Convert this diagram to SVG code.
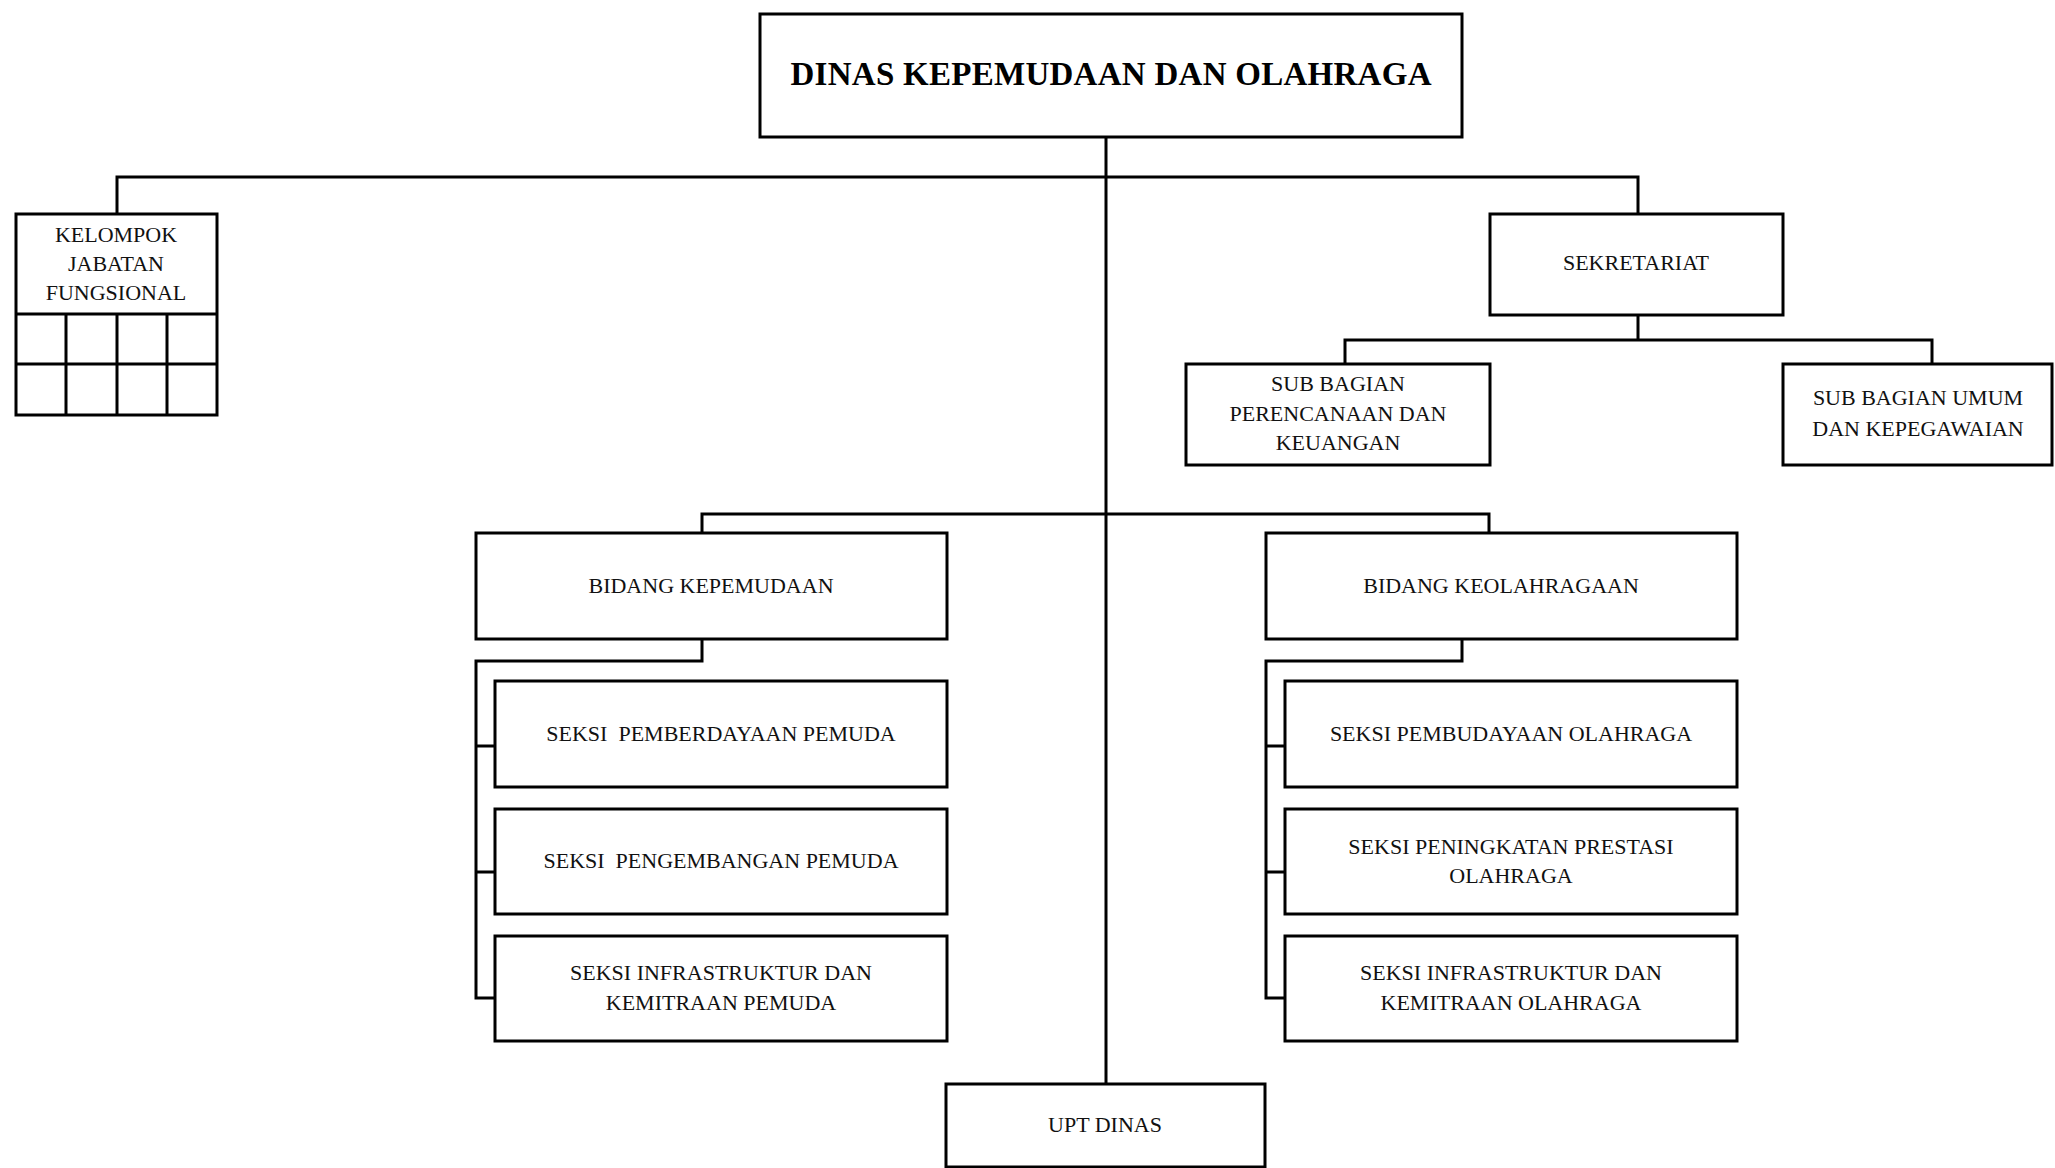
<svg xmlns="http://www.w3.org/2000/svg" width="2055" height="1168" viewBox="0 0 2055 1168">
<style>
.box{fill:#fff;stroke:#000;stroke-width:3}
.ln{fill:none;stroke:#000;stroke-width:3}
.t{font-family:"Liberation Serif","Times New Roman",serif;font-size:22px;fill:#111;text-anchor:middle;white-space:pre}
.title{font-family:"Liberation Serif","Times New Roman",serif;font-size:33px;font-weight:bold;fill:#000;text-anchor:middle}
</style>
<rect width="2055" height="1168" fill="#fff"/>
<g id="connectors">
<path class="ln" d="M1106,138 V1084"/>
<path class="ln" d="M117,214 V177 H1638 V214"/>
<path class="ln" d="M1638,315 V340 M1345,364 V340 H1932 V364"/>
<path class="ln" d="M702,533 V514 H1489 V534"/>
<path class="ln" d="M702,639 V661 H476 V998 H495 M476,746 H495 M476,872 H495"/>
<path class="ln" d="M1462,639 V661 H1266 V998 H1285 M1266,746 H1285 M1266,872 H1285"/>
</g>
<g id="dinas">
<rect class="box" x="760" y="14" width="702" height="123"/>
<text class="title" x="1111" y="85" textLength="641" lengthAdjust="spacing">DINAS KEPEMUDAAN DAN OLAHRAGA</text>
</g>
<g id="kjf">
<rect class="box" x="16" y="214" width="201" height="201"/>
<path class="ln" d="M16,314 H217 M16,364 H217 M66,314 V415 M117,314 V415 M167,314 V415"/>
<text class="t" x="116" y="242">KELOMPOK</text>
<text class="t" x="116" y="271">JABATAN</text>
<text class="t" x="116" y="300">FUNGSIONAL</text>
</g>
<g id="sekretariat">
<rect class="box" x="1490" y="214" width="293" height="101"/>
<text class="t" x="1636" y="270">SEKRETARIAT</text>
</g>
<g id="subbag-perencanaan">
<rect class="box" x="1186" y="364" width="304" height="101"/>
<text class="t" x="1338" y="391">SUB BAGIAN</text>
<text class="t" x="1338" y="421">PERENCANAAN DAN</text>
<text class="t" x="1338" y="450">KEUANGAN</text>
</g>
<g id="subbag-umum">
<rect class="box" x="1783" y="364" width="269" height="101"/>
<text class="t" x="1918" y="405">SUB BAGIAN UMUM</text>
<text class="t" x="1918" y="436">DAN KEPEGAWAIAN</text>
</g>
<g id="bidang-kepemudaan">
<rect class="box" x="476" y="533" width="471" height="106"/>
<text class="t" x="711" y="593">BIDANG KEPEMUDAAN</text>
</g>
<g id="bidang-keolahragaan">
<rect class="box" x="1266" y="533" width="471" height="106"/>
<text class="t" x="1501" y="593">BIDANG KEOLAHRAGAAN</text>
</g>
<g id="seksi-pemberdayaan">
<rect class="box" x="495" y="681" width="452" height="106"/>
<text class="t" x="721" y="741" xml:space="preserve">SEKSI  PEMBERDAYAAN PEMUDA</text>
</g>
<g id="seksi-pengembangan">
<rect class="box" x="495" y="809" width="452" height="105"/>
<text class="t" x="721" y="868" xml:space="preserve">SEKSI  PENGEMBANGAN PEMUDA</text>
</g>
<g id="seksi-infra-pemuda">
<rect class="box" x="495" y="936" width="452" height="105"/>
<text class="t" x="721" y="980">SEKSI INFRASTRUKTUR DAN</text>
<text class="t" x="721" y="1010">KEMITRAAN PEMUDA</text>
</g>
<g id="seksi-pembudayaan">
<rect class="box" x="1285" y="681" width="452" height="106"/>
<text class="t" x="1511" y="741">SEKSI PEMBUDAYAAN OLAHRAGA</text>
</g>
<g id="seksi-prestasi">
<rect class="box" x="1285" y="809" width="452" height="105"/>
<text class="t" x="1511" y="854">SEKSI PENINGKATAN PRESTASI</text>
<text class="t" x="1511" y="883">OLAHRAGA</text>
</g>
<g id="seksi-infra-olahraga">
<rect class="box" x="1285" y="936" width="452" height="105"/>
<text class="t" x="1511" y="980">SEKSI INFRASTRUKTUR DAN</text>
<text class="t" x="1511" y="1010">KEMITRAAN OLAHRAGA</text>
</g>
<g id="upt">
<rect class="box" x="946" y="1084" width="319" height="83"/>
<text class="t" x="1105" y="1132">UPT DINAS</text>
</g>
</svg>
